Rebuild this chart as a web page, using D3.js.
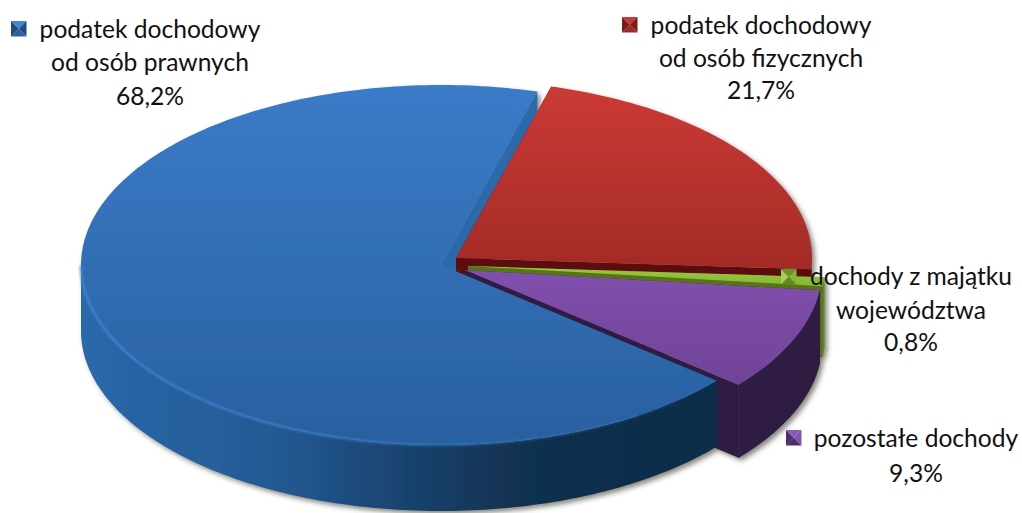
<!DOCTYPE html>
<html><head><meta charset="utf-8">
<script src="https://cdn.jsdelivr.net/npm/d3@7/dist/d3.min.js"></script>
<style>html,body{margin:0;padding:0;background:#fff}svg{display:block}text{font-family:Lato,"Open Sans",sans-serif;fill:#111}</style>
</head><body><svg id="c" width="1022" height="513"></svg>
<script>
const categories = ["podatek dochodowy od osób prawnych","podatek dochodowy od osób fizycznych","dochody z majątku województwa","pozostałe dochody"];
const values = [68.2, 21.7, 0.8, 9.3];
const valueLabels = ["68,2%","21,7%","0,8%","9,3%"];
const labelLines = [["podatek dochodowy","od osób prawnych"],["podatek dochodowy","od osób fizycznych"],["dochody z majątku","województwa"],["pozostałe dochody"]];

const layout = [
 {cx:441,cy:265,r:360,depth:66, tx:150, base:[38,71,105], mk:[11,21]},
 {cx:456,cy:258,r:356,depth:66, tx:761, base:[34,67,99], mk:[622,17]},
 {cx:468,cy:266,r:357,depth:71, tx:911, base:[285,319,351], mk:[781,269]},
 {cx:465,cy:270,r:357,depth:73, tx:916, base:[447,482], mk:[786,430]}
];
const pal = [
 {top:["#3b7bc8","#28609f"],wall:[[0,"#2a68aa"],[0.3,"#235a94"],[0.55,"#173f68"],[0.7,"#11304f"],[1,"#0e2d4a"]],cut:"#2b69aa",m:["#3f86d4","#1f4c80","#1f4c80","#2a619e"]},
 {top:["#cb3a35","#a32b27"],wall:[[0,"#5a0e0c"],[1,"#5a0e0c"]],cut:"#5c0f0d",m:["#c23c38","#7c1c1a","#7c1c1a","#9a2a27"]},
 {top:["#9cc945","#86b534"],wall:[[0,"#66861c"],[1,"#5f7f18"]],cut:"#587516",m:["#6f9426","#a4cf55","#8ab43c","#64871f"]},
 {top:["#8150ad","#6f4396"],wall:[[0,"#2e1a42"],[1,"#2e1a42"]],cut:"#2e1a42",m:["#8a5cb5","#4c2e6c","#8055ab","#4c2e6c"]}
];
const SQ = 0.5;
const svg = d3.select("#c");
const defs = svg.append("defs");
const f = defs.append("filter").attr("id","sh").attr("x","-5%").attr("y","-5%").attr("width","110%").attr("height","115%");
f.append("feDropShadow").attr("dx",3).attr("dy",3).attr("stdDeviation",2.5).attr("flood-color","#3a3a2a").attr("flood-opacity",0.6);
defs.append("filter").attr("id","soft").append("feGaussianBlur").attr("stdDeviation",0.8);

pal.forEach((p,i)=>{
  const g=defs.append("linearGradient").attr("id","t"+i).attr("x1",0).attr("x2",0).attr("y1",0).attr("y2",1);
  g.append("stop").attr("offset",0).attr("stop-color",p.top[0]);
  g.append("stop").attr("offset",1).attr("stop-color",p.top[1]);
  const w=defs.append("linearGradient").attr("id","w"+i).attr("x1",0).attr("x2",1).attr("y1",0).attr("y2",0);
  p.wall.forEach(s=>w.append("stop").attr("offset",s[0]).attr("stop-color",s[1]));
});
const rim=defs.append("linearGradient").attr("id","rim").attr("x1",0).attr("x2",1).attr("y1",0).attr("y2",0);
[[0,"#3f86d6",0.9],[0.5,"#3a7fcc",0.7],[1,"#3a7fcc",0]].forEach(s=>rim.append("stop").attr("offset",s[0]).attr("stop-color",s[1]).attr("stop-opacity",s[2]));

const deg = Math.PI/180;
const pie = d3.pie().sort(null).startAngle(130*deg).endAngle(490*deg);
const arcs = pie(values);

const pt=(l,t,dz=0)=>[l.cx+l.r*Math.sin(t), l.cy-l.r*SQ*Math.cos(t)+dz];
const line=d3.line();
const sweep=(l,a,b,dz=0)=>{const n=Math.max(2,Math.ceil((b-a)/deg));return d3.range(n+1).map(k=>pt(l,a+(b-a)*k/n,dz));};
const topPath=(l,a)=>line([[l.cx,l.cy],...sweep(l,a.startAngle,a.endAngle)])+"Z";
const outerWall=(l,a)=>{
  const off=a.startAngle>=2*Math.PI?2*Math.PI:0;
  const s=Math.max(a.startAngle-off,90*deg), e=Math.min(a.endAngle-off,270*deg);
  if(e<=s) return null;
  return line([...sweep(l,s,e),...sweep(l,s,e,l.depth).reverse()])+"Z";
};
const radialWall=(l,t)=>line([[l.cx,l.cy],pt(l,t),pt(l,t,l.depth),[l.cx,l.cy+l.depth]])+"Z";

const root=svg.append("g").attr("filter","url(#sh)");
root.append("path").attr("d",radialWall(layout[0],arcs[0].endAngle)).attr("fill",pal[0].cut);
[1,2,3,0].forEach(i=>{
  const l=layout[i],a=arcs[i],g=root.append("g");
  if(i!==0){
    g.append("path").attr("d",radialWall(l,a.startAngle)).attr("fill",pal[i].cut);
    g.append("path").attr("d",radialWall(l,a.endAngle)).attr("fill",pal[i].cut);
  }
  const w=outerWall(l,a);
  if(w) g.append("path").attr("d",w).attr("fill",`url(#w${i})`).attr("stroke",i===3?pal[i].cut:"none").attr("stroke-width",i===3?0.6:0);
  g.append("path").attr("d",topPath(l,a)).attr("fill",`url(#t${i})`);
});
root.append("path").attr("d",line(sweep(layout[0],arcs[0].startAngle,270*deg).reverse()))
  .attr("fill","none").attr("stroke","url(#rim)").attr("stroke-width",2.2).attr("filter","url(#soft)");

const tri=(x,y,s)=>[[[x,y],[x+s,y],[x+s/2,y+s/2]],[[x,y],[x,y+s],[x+s/2,y+s/2]],[[x+s,y],[x+s,y+s],[x+s/2,y+s/2]],[[x,y+s],[x+s,y+s],[x+s/2,y+s/2]]];
const fs=24.6;
categories.forEach((c,i)=>{
  const l=layout[i];
  const g=svg.append("g").attr("class","legend");
  tri(l.mk[0],l.mk[1],15.5).forEach((t,k)=>g.append("path").attr("d",line(t)+"Z").attr("fill",pal[i].m[k]));
  const lines=[...labelLines[i],valueLabels[i]];
  lines.forEach((s,k)=>g.append("text").attr("x",l.tx).attr("y",l.base[k]).attr("text-anchor","middle").attr("font-size",fs).text(s));
});
</script></body></html>
